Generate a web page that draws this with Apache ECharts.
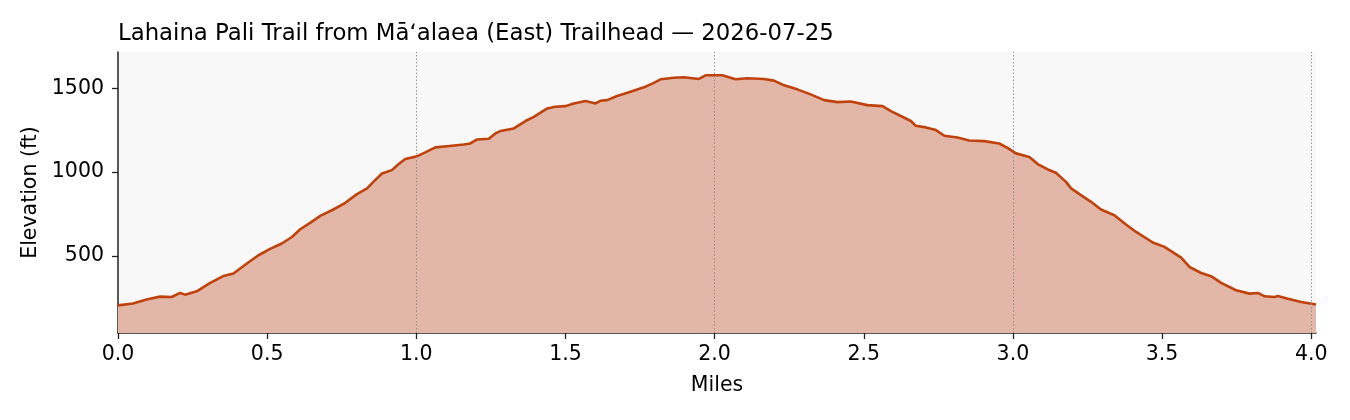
<!DOCTYPE html>
<html>
<head>
<meta charset="utf-8">
<script src="https://cdn.jsdelivr.net/npm/echarts@6/dist/echarts.min.js"></script>
<style>
html,body{margin:0;padding:0;background:#fff;}
#chart{width:1350px;height:420px;}
</style>
</head>
<body>
<div id="chart"></div>
<script>
const titleText = 'Lahaina Pali Trail from Māʻalaea (East) Trailhead — 2026-07-25';
const miles = [0.000,0.050,0.096,0.141,0.180,0.208,0.225,0.264,0.309,0.353,0.387,0.432,0.471,0.510,0.549,0.583,0.611,0.644,0.678,0.722,0.762,0.801,0.835,0.862,0.885,0.918,0.941,0.963,1.002,1.030,1.064,1.103,1.159,1.181,1.204,1.243,1.265,1.282,1.327,1.366,1.394,1.439,1.466,1.500,1.528,1.567,1.601,1.617,1.640,1.673,1.718,1.763,1.796,1.819,1.863,1.897,1.947,1.970,2.026,2.070,2.110,2.165,2.199,2.233,2.277,2.322,2.367,2.412,2.456,2.512,2.563,2.591,2.624,2.658,2.674,2.708,2.742,2.770,2.814,2.853,2.904,2.954,2.982,3.010,3.055,3.083,3.117,3.144,3.178,3.195,3.228,3.262,3.295,3.340,3.379,3.413,3.469,3.508,3.564,3.592,3.631,3.664,3.698,3.748,3.793,3.821,3.844,3.877,3.888,3.922,3.966,4.016];
const elevationFt = [205,216,240,257,255,279,269,289,339,380,395,455,504,542,574,613,659,697,739,777,817,869,903,952,992,1012,1048,1079,1094,1118,1148,1155,1165,1171,1195,1199,1231,1245,1261,1305,1330,1380,1390,1394,1410,1424,1410,1426,1430,1454,1480,1506,1533,1554,1563,1566,1556,1578,1578,1554,1560,1556,1546,1518,1494,1464,1430,1418,1422,1400,1394,1364,1335,1305,1277,1267,1251,1217,1207,1189,1185,1171,1145,1112,1091,1048,1016,996,942,903,863,823,777,743,688,643,580,554,490,434,398,379,339,295,275,279,259,255,261,245,225,210];
const xTicks = [0,0.5,1,1.5,2,2.5,3,3.5,4];
const yTicks = [500,1000,1500];
const mileMarkers = [1,2,3,4];

const FONT = 'DejaVu Sans';
const chart = echarts.init(document.getElementById('chart'), null, {renderer:'canvas'});
const seriesData = miles.map((m,i)=>[m, elevationFt[i]]);
chart.setOption({
  animation:false,
  backgroundColor:'#ffffff',
  title:{
    text:titleText, left:118, top:23, padding:0,
    textStyle:{fontFamily:FONT,fontSize:22.8,fontWeight:'normal',color:'#000'}
  },
  grid:{left:118,right:34,top:52,bottom:87,show:true,backgroundColor:'#f8f8f8',borderWidth:0},
  xAxis:{
    type:'value', min:0, max:miles[miles.length-1],
    name:'Miles', nameLocation:'middle', nameGap:42,
    nameTextStyle:{fontFamily:FONT,fontSize:20.5,color:'#000'},
    axisLine:{show:true,onZero:false,lineStyle:{color:'#222',width:1.5}},
    axisTick:{show:true,length:6,lineStyle:{color:'#222',width:1.3},customValues:xTicks},
    axisLabel:{fontFamily:FONT,fontSize:20.5,color:'#000',margin:11,customValues:xTicks,formatter:v=>Number(v).toFixed(1)},
    splitLine:{show:false}
  },
  yAxis:{
    type:'value', min:40, max:1717,
    name:'Elevation (ft)', nameLocation:'middle', nameGap:70, nameRotate:90,
    nameTextStyle:{fontFamily:FONT,fontSize:20.5,color:'#000'},
    axisLine:{show:true,lineStyle:{color:'#222',width:1.5}},
    axisTick:{show:true,length:6,lineStyle:{color:'#222',width:1.3},customValues:yTicks},
    axisLabel:{fontFamily:FONT,fontSize:20.5,color:'#000',margin:14,customValues:yTicks,formatter:v=>String(v)},
    splitLine:{show:false}
  },
  series:[{
    type:'line', data:seriesData, showSymbol:false, symbol:'none', smooth:false,
    lineStyle:{color:'#bf420c',width:2.6},
    itemStyle:{color:'#bf420c'},
    areaStyle:{color:'#e3b7a7',opacity:1,origin:'start'},
    markLine:{
      silent:true, symbol:['none','none'], label:{show:false},
      lineStyle:{color:'#8a8a8a',type:[1.5,2],width:0.9},
      data:mileMarkers.map(v=>({xAxis:v}))
    }
  }]
});
</script>
</body>
</html>
